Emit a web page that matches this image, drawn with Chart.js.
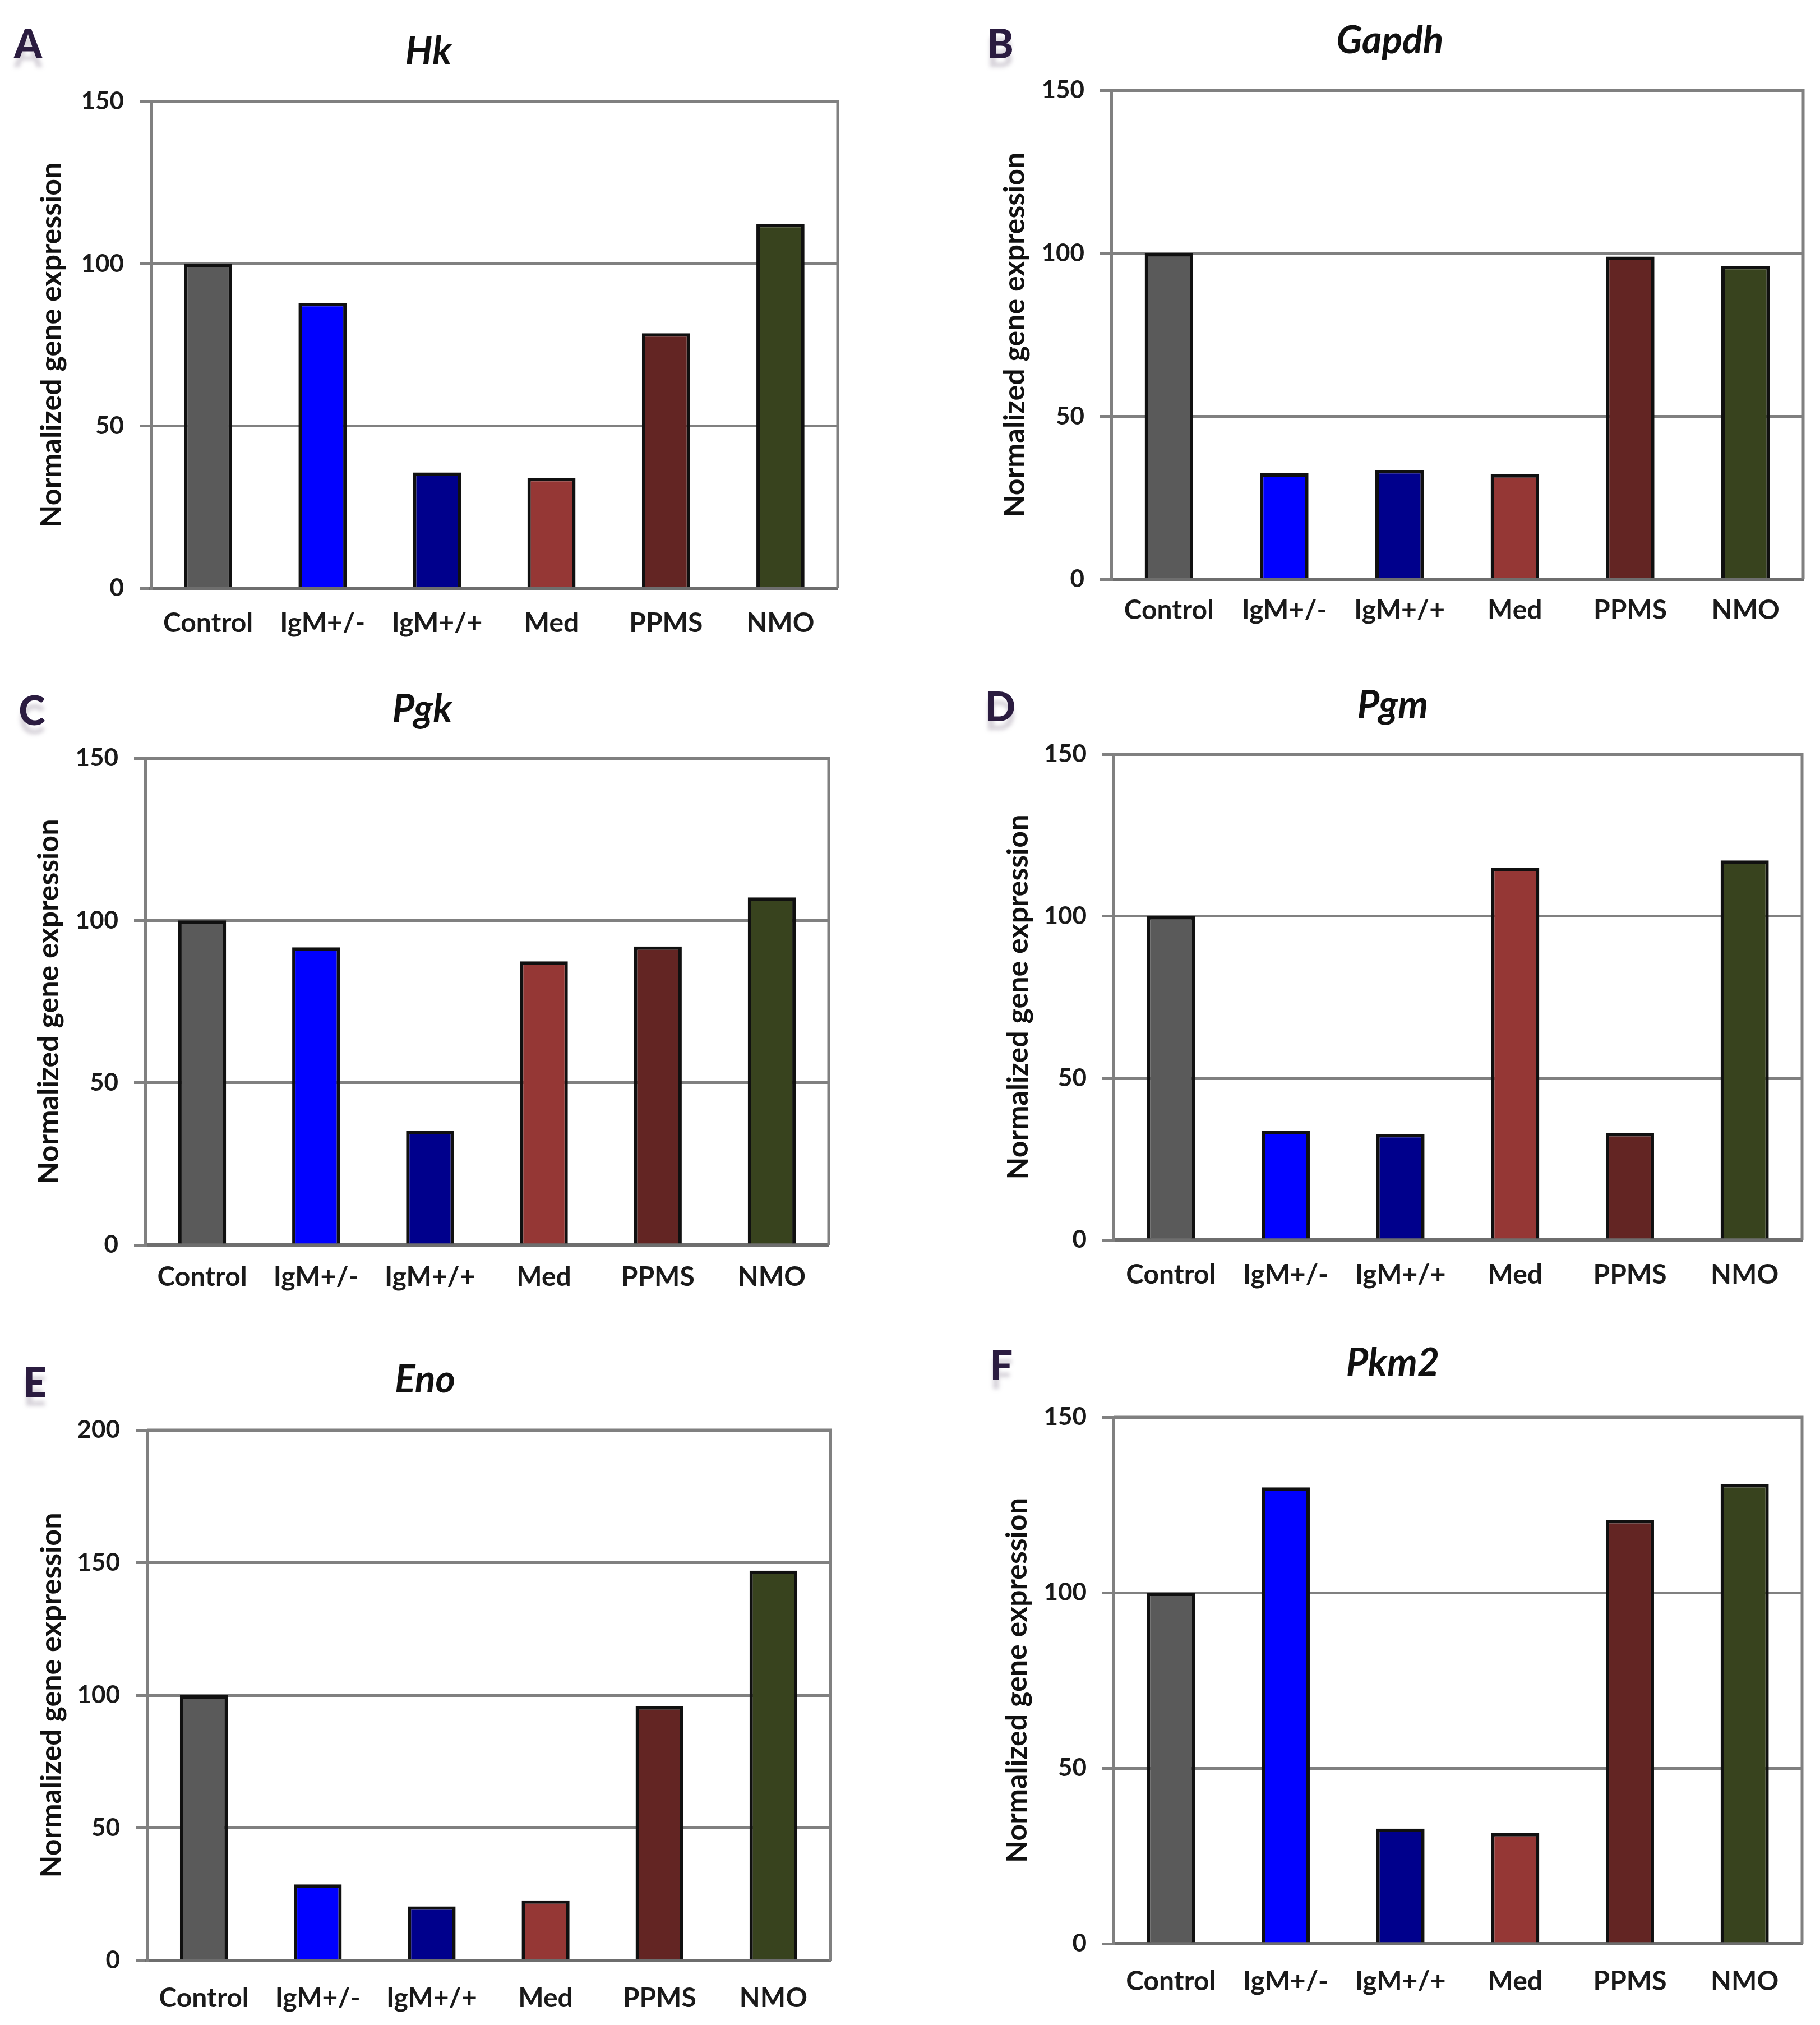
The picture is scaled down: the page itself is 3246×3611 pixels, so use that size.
<!DOCTYPE html>
<html>
<head>
<meta charset="utf-8">
<script src="https://cdn.jsdelivr.net/npm/chart.js@4.4.1/dist/chart.umd.min.js"></script>
<style>
  html, body { margin: 0; padding: 0; background: #ffffff; }
  #wrap { position: relative; width: 3246px; height: 3611px; background: #ffffff; overflow: hidden; }
  canvas { position: absolute; }
  .letter { position: absolute; font-family: Lato, "Open Sans", sans-serif; font-weight: 900; font-size: 72px;
            color: #2b1c40; transform: translate(-50%, -50%); line-height: 1;
            text-shadow: 0 16px 7px rgba(140,130,150,0.35); }
</style>
</head>
<body>
<div id="wrap"></div>
<script>
// ---------------- data ----------------
const categories = ["Control", "IgM+/-", "IgM+/+", "Med", "PPMS", "NMO"];
const hkValues    = [100, 87.9, 35.7, 34.0, 78.6, 112.3];
const gapdhValues = [100, 32.5, 33.5, 32.2, 99.0, 96.1];
const pgkValues   = [100, 91.7, 35.2, 87.4, 92.0, 107.1];
const pgmValues   = [100, 33.6, 32.7, 114.9, 33.0, 117.2];
const enoValues   = [100, 28.7, 20.4, 22.7, 95.8, 147.0];
const pkm2Values  = [100, 130.0, 32.8, 31.5, 120.7, 130.9];
const geneTitles  = ["Hk", "Gapdh", "Pgk", "Pgm", "Eno", "Pkm2"];
const panelLetters = ["A", "B", "C", "D", "E", "F"];
const yMaxes      = [150, 150, 150, 150, 200, 150];
const yTickStep   = 50;
const yAxisTitle  = "Normalized gene expression";
const barColors   = ["#5a5a5a", "#0000ff", "#00008c", "#953735", "#632523", "#38431e"];

// ---------------- layout (pixels) ----------------
const panels = [
  {values: hkValues,    plotL: 269,  plotR: 1494, plotT: 181,  plotB: 1049, titleX: 764,  titleY: 92,   yTitleX: 92,   xLabelY: 1104, lx: 50,   ly: 76},
  {values: gapdhValues, plotL: 1982, plotR: 3216, plotT: 161,  plotB: 1033, titleX: 2479, titleY: 73,   yTitleX: 1810, xLabelY: 1081, lx: 1784, ly: 76},
  {values: pgkValues,   plotL: 259,  plotR: 1478, plotT: 1352, plotB: 2220, titleX: 753,  titleY: 1265, yTitleX: 87,   xLabelY: 2270, lx: 57,   ly: 1265},
  {values: pgmValues,   plotL: 1986, plotR: 3214, plotT: 1345, plotB: 2211, titleX: 2484, titleY: 1258, yTitleX: 1816, xLabelY: 2266, lx: 1784, ly: 1258},
  {values: enoValues,   plotL: 262,  plotR: 1481, plotT: 2550, plotB: 3496, titleX: 758,  titleY: 2461, yTitleX: 92,   xLabelY: 3556, lx: 62,   ly: 2463},
  {values: pkm2Values,  plotL: 1986, plotR: 3214, plotT: 2527, plotB: 3466, titleX: 2484, titleY: 2431, yTitleX: 1814, xLabelY: 3526, lx: 1786, ly: 2433}
];

const FONT = "Lato, 'Open Sans', sans-serif";
const TICK_SIZE = 44, XTICK_SIZE = 48, YTITLE_SIZE = 52, TITLE_SIZE = 68;

const framePlugin = {
  id: 'frame',
  beforeDatasetsDraw(chart) {
    const a = chart.chartArea, ctx = chart.ctx;
    ctx.save();
    ctx.strokeStyle = '#808080';
    ctx.lineWidth = 5;
    ctx.beginPath();
    ctx.moveTo(a.left, a.top);
    ctx.lineTo(a.right, a.top);
    ctx.lineTo(a.right, a.bottom);
    ctx.stroke();
    ctx.restore();
  }
};

const wrap = document.getElementById('wrap');

panels.forEach((p, i) => {
  const cl = 2 * p.titleX - p.plotR;      // centre the title over the plot
  const padR = 12;
  const cw = p.plotR - cl + padR;
  const ct = p.titleY - 60;
  const ch = p.xLabelY + 60 - ct;
  const yAxisW = p.plotL - cl;
  const xAxisH = ch - (p.plotB - ct);
  const titleLH = TITLE_SIZE * 1.2;
  const tPadTop = 60 - titleLH / 2;
  const tPadBottom = (p.plotT - ct) - tPadTop - titleLH;
  const yTitleLH = YTITLE_SIZE * 1.2;
  const yTitlePad = p.yTitleX - cl - yTitleLH / 2;
  const xTickPad = (p.xLabelY - p.plotB) - XTICK_SIZE * 1.2 / 2;

  const cv = document.createElement('canvas');
  cv.width = cw; cv.height = ch;
  cv.style.left = cl + 'px'; cv.style.top = ct + 'px';
  cv.style.width = cw + 'px'; cv.style.height = ch + 'px';
  wrap.appendChild(cv);

  const lt = document.createElement('div');
  lt.className = 'letter';
  lt.textContent = panelLetters[i];
  lt.style.left = p.lx + 'px'; lt.style.top = p.ly + 'px';
  wrap.appendChild(lt);

  new Chart(cv.getContext('2d'), {
    type: 'bar',
    data: {
      labels: categories,
      datasets: [{
        data: p.values,
        backgroundColor: barColors,
        borderColor: '#101010',
        borderWidth: 6,
        barPercentage: 0.42,
        categoryPercentage: 1.0
      }]
    },
    options: {
      responsive: false,
      animation: false,
      devicePixelRatio: 1,
      layout: { padding: { left: 0, right: padR, top: 0, bottom: 0 } },
      plugins: {
        legend: { display: false },
        tooltip: { enabled: false },
        title: {
          display: true,
          text: geneTitles[i],
          color: '#111111',
          font: { family: FONT, size: TITLE_SIZE, style: 'italic', weight: 'bold', lineHeight: 1.2 },
          padding: { top: tPadTop, bottom: tPadBottom }
        }
      },
      scales: {
        x: {
          grid: { display: false },
          border: { display: true, color: '#6e6e6e', width: 6 },
          ticks: { color: '#1a1a1a', padding: xTickPad, maxRotation: 0, autoSkip: false,
                   font: { family: FONT, size: XTICK_SIZE, weight: 'bold', lineHeight: 1.2 } },
          afterFit(scale) { scale.height = xAxisH; }
        },
        y: {
          min: 0,
          max: yMaxes[i],
          ticks: { stepSize: yTickStep, color: '#1a1a1a', padding: 28,
                   font: { family: FONT, size: TICK_SIZE, weight: 'bold', lineHeight: 1.2 } },
          grid: { color: '#808080', lineWidth: 5, drawTicks: true, tickLength: 20 },
          border: { display: true, color: '#808080', width: 5 },
          title: {
            display: true,
            text: yAxisTitle,
            color: '#111111',
            font: { family: FONT, size: YTITLE_SIZE, weight: 'bold', lineHeight: 1.2 },
            padding: { top: yTitlePad, bottom: 0 }
          },
          afterFit(scale) { scale.width = yAxisW; }
        }
      }
    },
    plugins: [framePlugin]
  });
});
</script>
</body>
</html>
